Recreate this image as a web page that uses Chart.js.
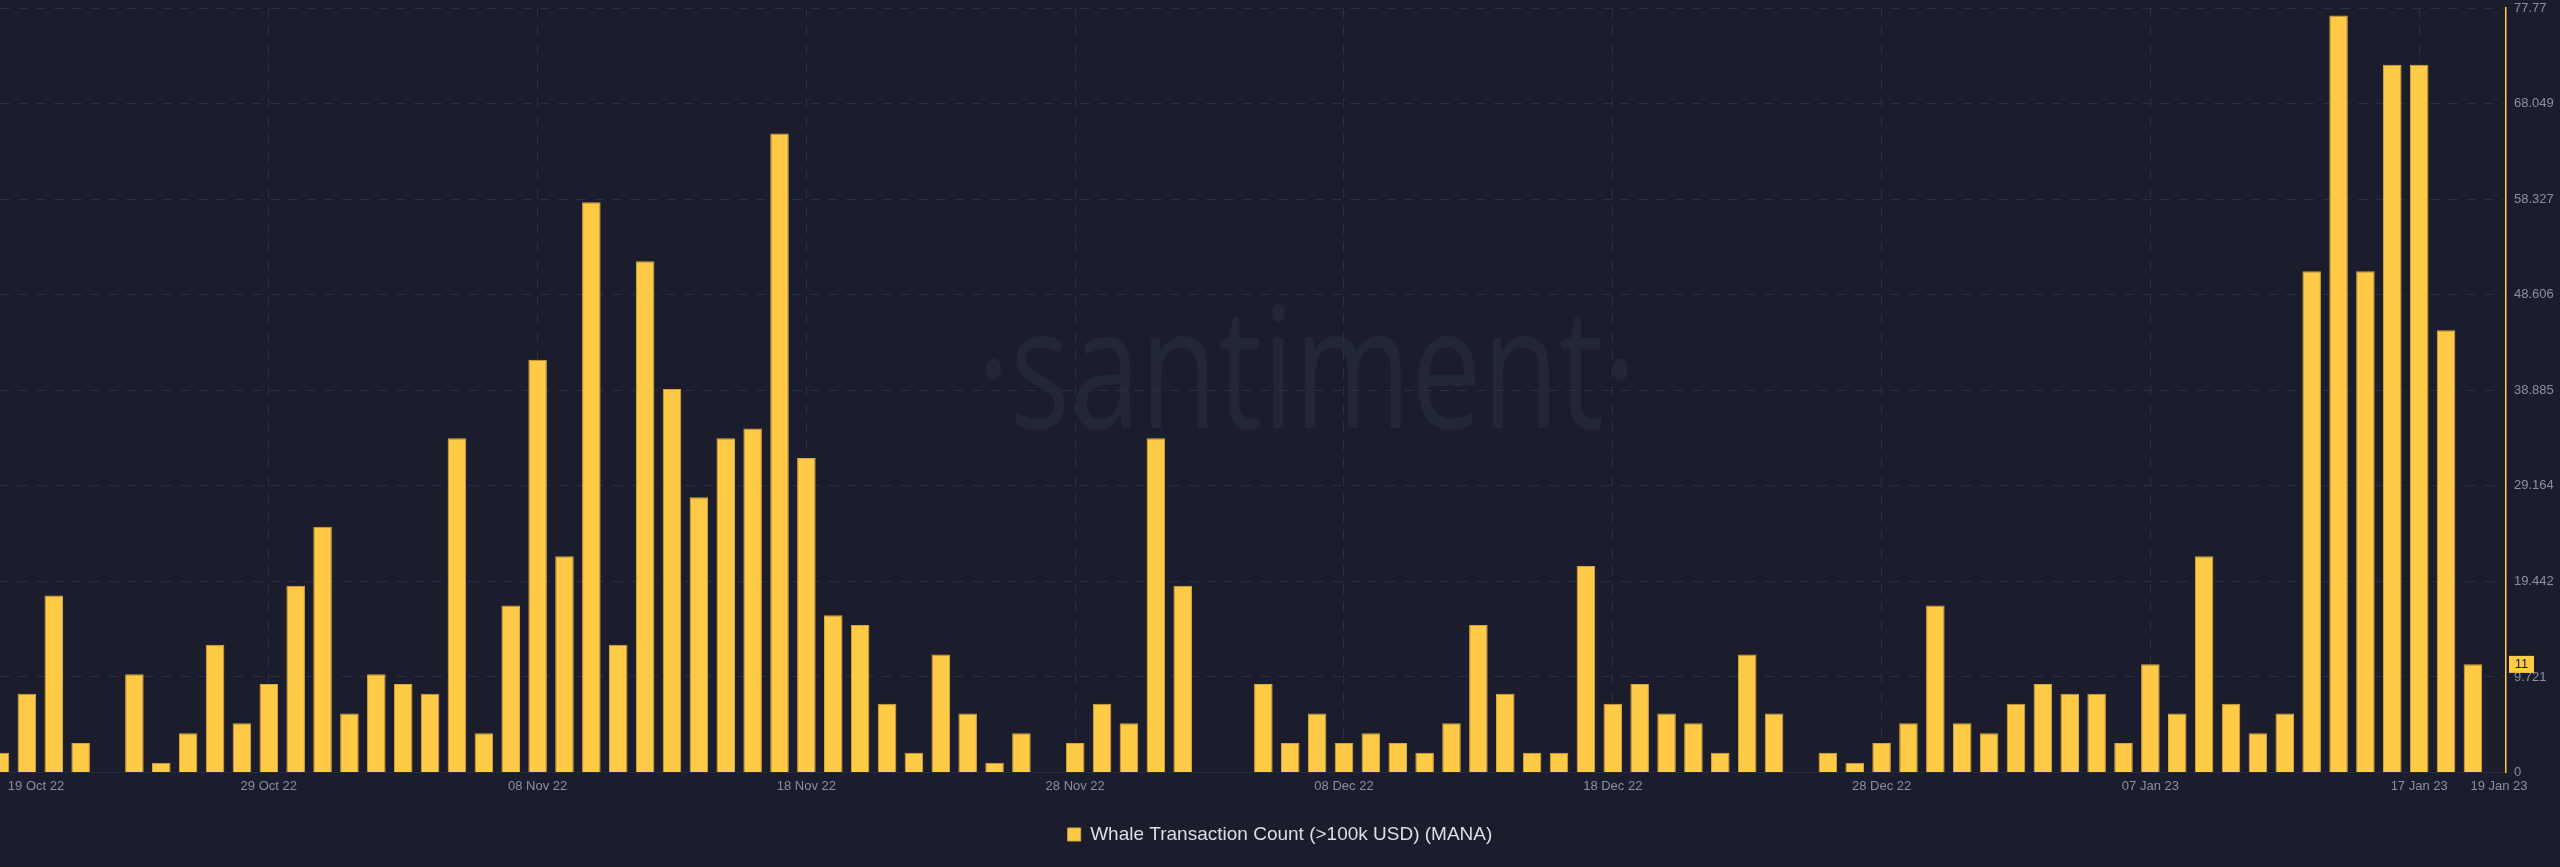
<!DOCTYPE html>
<html><head><meta charset="utf-8">
<script src="https://cdn.jsdelivr.net/npm/chart.js@4/dist/chart.umd.min.js"></script>
<style>html,body{margin:0;padding:0;background:#1b1d2d;overflow:hidden}#wrap{width:2560px;height:867px;position:relative}</style>
</head><body><div id="wrap"><canvas id="c"></canvas></div>
<script>
const dates = [
 '2022-10-19','2022-10-20','2022-10-21','2022-10-22','2022-10-23','2022-10-24','2022-10-25','2022-10-26','2022-10-27','2022-10-28','2022-10-29','2022-10-30','2022-10-31',
 '2022-11-01','2022-11-02','2022-11-03','2022-11-04','2022-11-05','2022-11-06','2022-11-07','2022-11-08','2022-11-09','2022-11-10','2022-11-11','2022-11-12','2022-11-13','2022-11-14','2022-11-15','2022-11-16','2022-11-17','2022-11-18','2022-11-19','2022-11-20','2022-11-21','2022-11-22','2022-11-23','2022-11-24','2022-11-25','2022-11-26','2022-11-27','2022-11-28','2022-11-29','2022-11-30',
 '2022-12-01','2022-12-02','2022-12-03','2022-12-04','2022-12-05','2022-12-06','2022-12-07','2022-12-08','2022-12-09','2022-12-10','2022-12-11','2022-12-12','2022-12-13','2022-12-14','2022-12-15','2022-12-16','2022-12-17','2022-12-18','2022-12-19','2022-12-20','2022-12-21','2022-12-22','2022-12-23','2022-12-24','2022-12-25','2022-12-26','2022-12-27','2022-12-28','2022-12-29','2022-12-30','2022-12-31',
 '2023-01-01','2023-01-02','2023-01-03','2023-01-04','2023-01-05','2023-01-06','2023-01-07','2023-01-08','2023-01-09','2023-01-10','2023-01-11','2023-01-12','2023-01-13','2023-01-14','2023-01-15','2023-01-16','2023-01-17','2023-01-18','2023-01-19'
];
const values = [
 2,8,18,3,0,10,1,4,13,5,9,19,25,
 6,10,9,8,34,4,17,42,22,58,13,52,39,28,34,35,65,32,16,15,7,2,12,6,1,4,0,3,7,5,
 34,19,0,0,9,3,6,3,4,3,2,5,15,8,2,2,21,7,9,6,5,2,12,6,0,2,1,3,5,17,
 5,4,7,9,8,8,3,11,6,22,7,4,6,51,77,51,72,72,45,11
];
const xTickDays = [1.34,10,20,30,40,50,60,70,80,90,92.97];
const xTickLabels = ['19 Oct 22','29 Oct 22','08 Nov 22','18 Nov 22','28 Nov 22','08 Dec 22','18 Dec 22','28 Dec 22','07 Jan 23','17 Jan 23','19 Jan 23'];
const yTickValues = [0,9.721,19.442,29.164,38.885,48.606,58.327,68.049,77.77];
const yTickLabels = ['0','9.721','19.442','29.164','38.885','48.606','58.327','68.049','77.77'];
const seriesLabel = 'Whale Transaction Count (>100k USD) (MANA)';

const BG = '#1b1d2d';
const YELLOW = '#ffcb47';
const GRID = '#2a2f45';
const TICK = '#8a8fa6';
const FONT = '"Liberation Sans", Arial, sans-serif';

const bgPlugin = {
  id: 'bg',
  beforeDraw(chart) {
    const ctx = chart.ctx;
    ctx.save();
    ctx.fillStyle = BG;
    ctx.fillRect(0, 0, chart.width, chart.height);
    // watermark
    ctx.font = '400 168px "Open Sans", sans-serif';
    ctx.fillStyle = '#222639';
    ctx.textBaseline = 'alphabetic';
    ctx.textAlign = 'left';
    const txt = '\u00B7santiment\u00B7';
    const w = ctx.measureText(txt).width;
    const target = 660;
    const sx = target / w;
    ctx.translate(977, 428);
    ctx.scale(sx, 1);
    ctx.fillText(txt, 0, 0);
    ctx.restore();
  }
};

const lastValPlugin = {
  id: 'lastVal',
  afterDraw(chart) {
    const ys = chart.scales.y;
    const v = values[values.length - 1];
    const y = ys.getPixelForValue(v);
    const ctx = chart.ctx;
    ctx.save();
    ctx.fillStyle = YELLOW;
    ctx.fillRect(ys.left + 3, y - 8.5, 25, 17);
    ctx.fillStyle = '#1b1d2d';
    ctx.font = '13px ' + FONT;
    ctx.textAlign = 'center';
    ctx.textBaseline = 'middle';
    ctx.fillText(String(v), ys.left + 15.5, y + 0.5);
    ctx.restore();
  }
};

new Chart(document.getElementById('c'), {
  type: 'bar',
  data: {
    datasets: [{
      label: seriesLabel,
      data: values.map((v, i) => ({x: i, y: v})),
      backgroundColor: YELLOW,
      borderColor: '#d6a83c',
      borderWidth: 1,
      barPercentage: 0.69,
      categoryPercentage: 1
    }]
  },
  options: {
    responsive: true,
    maintainAspectRatio: false,
    devicePixelRatio: 1,
    animation: false,
    layout: { padding: { top: 8, bottom: 13, left: 0, right: 0 } },
    plugins: {
      legend: {
        position: 'bottom',
        labels: { color: '#dcdee8', font: { size: 19, family: FONT }, boxWidth: 13, boxHeight: 13, padding: 10 }
      },
      tooltip: { enabled: false }
    },
    scales: {
      x: {
        type: 'linear',
        min: 0,
        max: 93.23,
        offset: false,
        grid: {
          offset: false,
          drawTicks: false,
          color: (c) => (c.index === 0 || c.index === xTickDays.length - 1) ? 'rgba(0,0,0,0)' : GRID,
          lineWidth: 1
        },
        border: { display: true, color: '#272b3e', dash: [10, 8] },
        afterBuildTicks: (s) => { s.ticks = xTickDays.map(v => ({value: v})); },
        afterFit: (s) => { s.height = 42.5; s.paddingLeft = 0; s.paddingRight = 0; },
        ticks: {
          autoSkip: false, maxRotation: 0, minRotation: 0, padding: 6,
          color: TICK, font: { size: 13, family: FONT },
          callback: (v, i) => xTickLabels[i]
        }
      },
      y: {
        position: 'right',
        min: 0,
        max: 77.77,
        grid: { drawTicks: false, color: GRID, lineWidth: 1 },
        border: { display: true, color: YELLOW, width: 1.5, dash: [10, 8] },
        afterBuildTicks: (s) => { s.ticks = yTickValues.map(v => ({value: v})); },
        afterFit: (s) => { s.width = 54; s.paddingTop = 0; s.paddingBottom = 0; },
        ticks: {
          padding: 8, color: TICK, font: { size: 13, family: FONT },
          callback: (v, i) => yTickLabels[i]
        }
      }
    }
  },
  plugins: [bgPlugin, lastValPlugin]
});
</script>
</body></html>
